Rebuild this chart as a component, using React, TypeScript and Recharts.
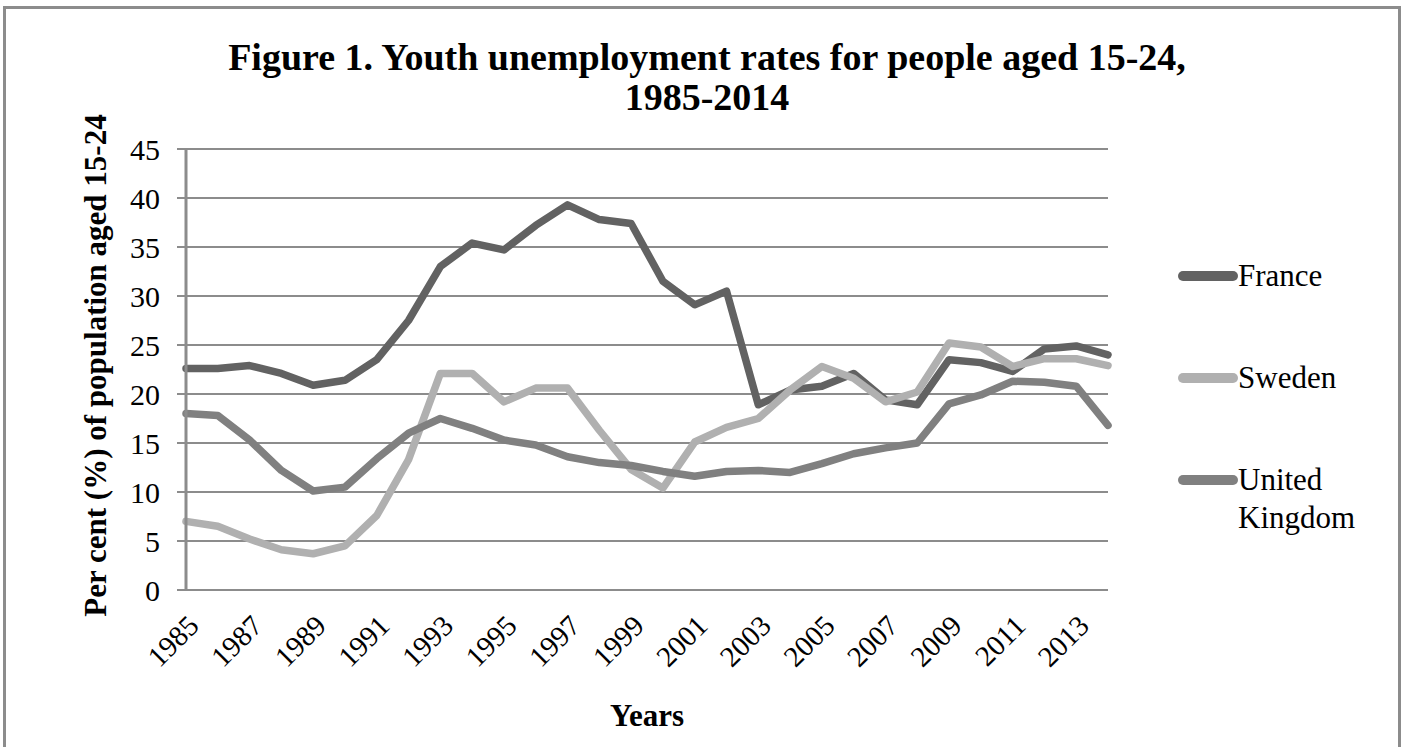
import { CartesianGrid, Label, Legend, Line, LineChart, XAxis, YAxis } from 'recharts';

const YEARS = [
  '1985', '1986', '1987', '1988', '1989', '1990', '1991', '1992', '1993', '1994',
  '1995', '1996', '1997', '1998', '1999', '2000', '2001', '2002', '2003', '2004',
  '2005', '2006', '2007', '2008', '2009', '2010', '2011', '2012', '2013', '2014',
];

const FRANCE = [
  22.6, 22.6, 22.9, 22.1, 20.9, 21.4, 23.5, 27.5, 33.0, 35.4,
  34.7, 37.2, 39.3, 37.8, 37.4, 31.5, 29.1, 30.5, 18.9, 20.4,
  20.8, 22.1, 19.4, 18.9, 23.5, 23.2, 22.3, 24.6, 24.9, 24.0,
];

const SWEDEN = [
  7.0, 6.5, 5.2, 4.1, 3.7, 4.5, 7.6, 13.3, 22.1, 22.1,
  19.2, 20.6, 20.6, 16.3, 12.3, 10.4, 15.1, 16.6, 17.5, 20.4,
  22.8, 21.6, 19.2, 20.2, 25.2, 24.8, 22.8, 23.6, 23.6, 22.9,
];

const UK = [
  18.0, 17.8, 15.3, 12.2, 10.1, 10.5, 13.4, 16.0, 17.5, 16.5,
  15.3, 14.8, 13.6, 13.0, 12.7, 12.1, 11.6, 12.1, 12.2, 12.0,
  12.9, 13.9, 14.5, 15.0, 19.0, 19.9, 21.3, 21.2, 20.8, 16.8,
];

const Y_TICKS = [0, 5, 10, 15, 20, 25, 30, 35, 40, 45];

const SERIES = [
  { key: 'france', name: 'France', color: '#626262' },
  { key: 'sweden', name: 'Sweden', color: '#b0b0b0' },
  { key: 'uk', name: 'United Kingdom', color: '#808080' },
];

const data = YEARS.map((year, i) => ({ year, france: FRANCE[i], sweden: SWEDEN[i], uk: UK[i] }));

// tick marks sit between the categories, like in the original
const BOUNDARIES = YEARS.map((_, i) => i).concat(YEARS.length);

const serif = '"Liberation Serif", "Times New Roman", serif';
const gridColor = '#8c8c8c';

function LegendBox() {
  return (
    <div style={{ position: 'relative', width: 220, height: 300, fontFamily: serif }}>
      {SERIES.map((s, i) => (
        <div key={s.key} style={{ position: 'absolute', left: 0, top: i * 102, display: 'flex', alignItems: 'flex-start' }}>
          <div style={{ width: 60, height: 10, marginTop: 14, borderRadius: 5, background: s.color }} />
          <div style={{ width: 140, fontSize: 31, lineHeight: '38px', color: '#000' }}>{s.name}</div>
        </div>
      ))}
    </div>
  );
}

function YTitle(props: any) {
  const vb = props.viewBox;
  const cx = 95;
  const cy = vb.y + vb.height / 2 - 4;
  return (
    <text
      x={cx}
      y={cy}
      transform={`rotate(-90, ${cx}, ${cy})`}
      textAnchor="middle"
      dominantBaseline="central"
      fontFamily={serif}
      fontWeight="bold"
      fontSize={31}
      fill="#000"
    >
      Per cent (%) of population aged 15-24
    </text>
  );
}

export default function App() {
  return (
    <div style={{ position: 'relative', width: 1403, height: 747, overflow: 'hidden', background: '#fff' }}>
      <style>{'body{margin:0}'}</style>
      <div
        style={{
          position: 'absolute',
          left: 3,
          top: 6,
          width: 1392,
          height: 800,
          border: `3px solid ${gridColor}`,
        }}
      />
      <div
        style={{
          position: 'absolute',
          left: 157,
          top: 37,
          width: 1100,
          textAlign: 'center',
          fontFamily: serif,
          fontWeight: 'bold',
          fontSize: 38,
          lineHeight: '40px',
          color: '#000',
        }}
      >
        Figure 1. Youth unemployment rates for people aged 15-24,
        <br />
        1985-2014
      </div>
      <LineChart
        width={1403}
        height={747}
        data={data}
        margin={{ top: 149, right: 295, left: 126, bottom: 67 }}
        style={{ position: 'absolute', left: 0, top: 0 }}
      >
        <CartesianGrid vertical={false} stroke={gridColor} strokeWidth={2} />
        <XAxis
          xAxisId="marks"
          type="number"
          domain={[0, YEARS.length]}
          ticks={BOUNDARIES}
          allowDataOverflow
          tick={false}
          height={0}
          tickSize={9}
          axisLine={{ stroke: gridColor, strokeWidth: 3 }}
          tickLine={{ stroke: gridColor, strokeWidth: 2 }}
        />
        <XAxis
          dataKey="year"
          interval={1}
          height={90}
          axisLine={false}
          tickLine={false}
          tickMargin={17}
          angle={-45}
          textAnchor="end"
          tick={{ fontSize: 29, fontFamily: serif, fill: '#000' }}
        >
          <Label
            value="Years"
            position="insideBottom"
            offset={-46}
            style={{ fontSize: 31, fontFamily: serif, fontWeight: 'bold', fill: '#000' }}
          />
        </XAxis>
        <YAxis
          width={60}
          domain={[0, 45]}
          ticks={Y_TICKS}
          interval={0}
          tickSize={9}
          tickMargin={17}
          axisLine={{ stroke: gridColor, strokeWidth: 3 }}
          tickLine={{ stroke: gridColor, strokeWidth: 2 }}
          tick={{ fontSize: 30, fontFamily: serif, fill: '#000' }}
        >
          <Label content={YTitle} />
        </YAxis>
        <Legend
          layout="horizontal"
          verticalAlign="middle"
          align="center"
          wrapperStyle={{ left: 1178, top: 257, width: 220 }}
          content={() => <LegendBox />}
        />
        {SERIES.map((s) => (
          <Line
            key={s.key}
            dataKey={s.key}
            name={s.name}
            stroke={s.color}
            strokeWidth={7.5}
            strokeLinejoin="round"
            strokeLinecap="round"
            dot={false}
            activeDot={false}
            isAnimationActive={false}
          />
        ))}
      </LineChart>
    </div>
  );
}
